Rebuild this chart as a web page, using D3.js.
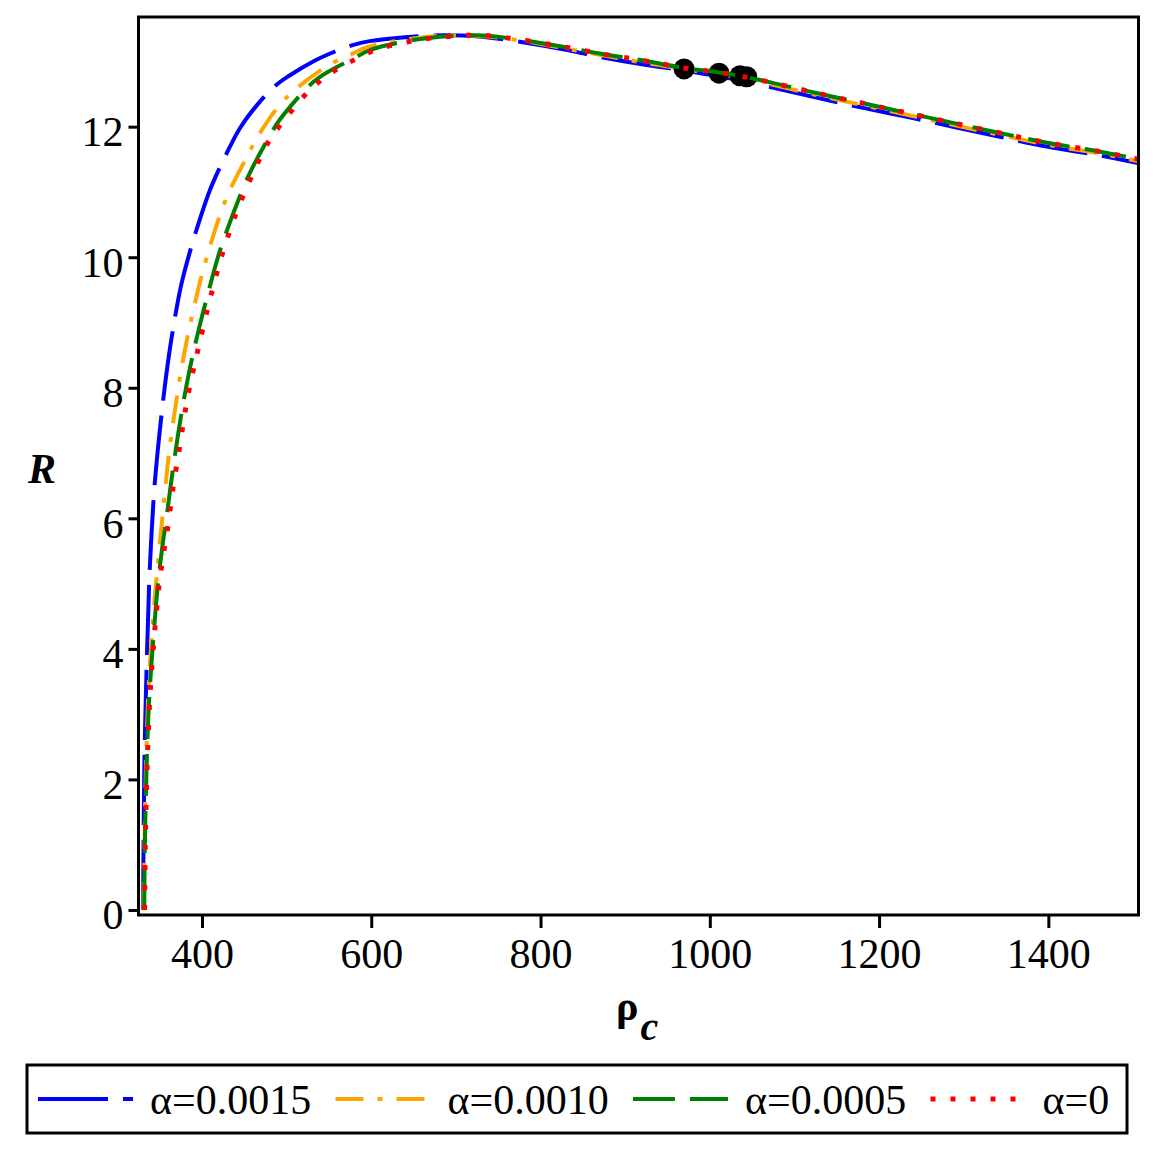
<!DOCTYPE html>
<html>
<head>
<meta charset="utf-8">
<script src="https://cdn.jsdelivr.net/npm/d3@7"></script>
<style>
  body { margin: 0; background: #fff; }
  svg text { font-family: "Liberation Serif", "DejaVu Serif", serif; fill: #000; }
</style>
</head>
<body>
<div id="chart"></div>
<script>
// R versus rho_c for four values of alpha
const labels = ["α=0.0015", "α=0.0010", "α=0.0005", "α=0"];
const colors = ["#0000ff", "#ffa500", "#008000", "#ff0000"];
const dashes = ["70,15", "28,14,5,14", "42,15", "5,15"];

const alpha0015 = [[330.5,0],[331,1.1],[332.3,2.5],[335,3.9],[337.8,5.07],[340.6,5.81],[344,6.5],[349,7.2],[354.5,7.85],[361,8.5],[367.5,9.03],[375,9.55],[385,10.05],[397,10.56],[410,11.05],[428,11.56],[445,11.98],[465,12.33],[487,12.63],[503,12.78],[533,13.01],[555,13.14],[578,13.25],[598,13.31],[640,13.37],[685,13.4],[720,13.39],[760,13.33],[820,13.2],[870,13.07],[918,12.96],[970,12.86],[1011,12.77],[1050,12.67],[1131,12.43],[1184,12.28],[1237,12.14],[1290,11.99],[1344,11.84],[1400,11.69],[1460,11.56],[1507,11.44]];
const alpha0010 = [[331,0],[332,0.8],[333,1.7],[334.5,2.5],[336.5,3.3],[339.5,3.95],[343,4.6],[347.5,5.25],[352,5.85],[356.5,6.45],[362,7.1],[368,7.65],[374.5,8.2],[382,8.72],[390,9.2],[399,9.69],[408,10.1],[420,10.6],[432,11.0],[452,11.51],[466,11.85],[491,12.32],[513,12.6],[552,12.96],[578,13.12],[596,13.22],[650,13.35],[700,13.4],[760,13.35],[820,13.22],[870,13.1],[918,12.99],[970,12.88],[1011,12.8],[1050,12.71],[1131,12.47],[1184,12.32],[1237,12.17],[1290,12.02],[1344,11.87],[1400,11.72],[1460,11.59],[1507,11.47]];
const alpha0005 = [[331.8,0],[332.5,1.0],[333.8,1.8],[335.3,2.5],[337.5,3.2],[340.5,3.8],[344,4.4],[348,5.0],[353,5.55],[358,6.0],[363,6.5],[369,7.05],[377,7.7],[385,8.25],[395,8.83],[407,9.44],[420,10.05],[432,10.5],[450,11.1],[458,11.33],[481.5,11.89],[491,12.09],[523,12.58],[539,12.76],[578,13.04],[600,13.18],[651,13.33],[694,13.39],[725,13.4],[760,13.36],[820,13.24],[870,13.12],[918,13.02],[970,12.9],[1011,12.83],[1050,12.74],[1131,12.5],[1184,12.35],[1237,12.2],[1290,12.05],[1344,11.9],[1400,11.75],[1460,11.62],[1507,11.5]];
const alpha0 = [[332.2,0],[333,1.0],[334.3,1.8],[336,2.5],[338.2,3.2],[341.2,3.8],[345,4.4],[349.5,5.0],[355,5.5],[360.5,5.95],[365.5,6.44],[373,7.05],[379,7.55],[386,8.05],[395,8.57],[408,9.28],[424,10.05],[440,10.66],[458,11.22],[479.5,11.79],[493.5,12.04],[525,12.53],[542.5,12.73],[562,12.9],[584,13.05],[603.5,13.17],[651,13.32],[700,13.39],[730,13.4],[760,13.36],[820,13.24],[870,13.12],[918,13.02],[970,12.9],[1011,12.83],[1050,12.74],[1131,12.5],[1184,12.35],[1237,12.2],[1290,12.05],[1344,11.9],[1400,11.75],[1460,11.62],[1507,11.5]];
const series = [alpha0015, alpha0010, alpha0005, alpha0];

// black markers on the curves
const markRho = [969.6, 1010.9, 1035.7, 1043.6];
const markR = [12.885, 12.82, 12.78, 12.765];

const xTicks = [400, 600, 800, 1000, 1200, 1400];
const yTicks = [0, 2, 4, 6, 8, 10, 12];

const W = 1157, H = 1157;
const plotL = 138.5, plotR = 1138.5, plotT = 17, plotB = 915;
const serif = '"Liberation Serif", "DejaVu Serif", serif';

const svg = d3.select("#chart").append("svg").attr("width", W).attr("height", H);

const x = d3.scaleLinear().domain([325, 1506.5]).range([plotL, plotR]);
const y = d3.scaleLinear().domain([-0.077, 13.68]).range([plotB, plotT]);

svg.append("defs").append("clipPath").attr("id", "clip")
    .append("rect").attr("x", plotL).attr("y", plotT).attr("width", plotR - plotL).attr("height", plotB - plotT);

const line = d3.line().x(d => x(d[0])).y(d => y(d[1])).curve(d3.curveCatmullRom.alpha(0.5));

const plot = svg.append("g").attr("clip-path", "url(#clip)");

function drawCurve(i) {
  plot.append("path").datum(series[i])
      .attr("d", line)
      .attr("fill", "none")
      .attr("stroke", colors[i])
      .attr("stroke-width", i == 3 ? 5 : 4)
      .attr("stroke-dasharray", dashes[i]);
}

drawCurve(0);
drawCurve(1);
plot.selectAll(".mark").data(markRho).enter().append("circle")
    .attr("class", "mark")
    .attr("cx", d => x(d))
    .attr("cy", (d, i) => y(markR[i]))
    .attr("r", 10.5)
    .attr("fill", "#000");
drawCurve(2);
drawCurve(3);

// axes
const xAxis = svg.append("g").attr("transform", `translate(0,${plotB})`)
    .call(d3.axisBottom(x).tickValues(xTicks).tickSize(13).tickPadding(10).tickFormat(d3.format("d")));
const yAxis = svg.append("g").attr("transform", `translate(${plotL},0)`)
    .call(d3.axisLeft(y).tickValues(yTicks).tickSize(10).tickPadding(5).tickFormat(d3.format("d")));
[xAxis, yAxis].forEach(a => {
  a.attr("font-family", serif);
  a.select(".domain").remove();
  a.selectAll(".tick line").attr("stroke", "#000").attr("stroke-width", 3);
  a.selectAll(".tick text").attr("font-size", 42).style("font-family", serif);
});
yAxis.selectAll(".tick text").attr("dy", "0.45em");

svg.append("rect").attr("x", plotL).attr("y", plotT)
    .attr("width", plotR - plotL).attr("height", plotB - plotT)
    .attr("fill", "none").attr("stroke", "#000").attr("stroke-width", 3);

// axis titles
svg.append("text").attr("x", 42).attr("y", 483).attr("text-anchor", "middle")
    .attr("font-size", 42).attr("font-weight", "bold").attr("font-style", "italic").text("R");

const xt = svg.append("text").attr("x", 616).attr("y", 1020)
    .attr("font-size", 42).attr("font-weight", "bold");
xt.append("tspan").text("ρ");
xt.append("tspan").attr("dy", 20).attr("dx", 2).attr("font-style", "italic").attr("font-size", 40).text("c");

// legend
svg.append("rect").attr("x", 27).attr("y", 1065).attr("width", 1100).attr("height", 68)
    .attr("fill", "none").attr("stroke", "#000").attr("stroke-width", 3);

const leg = svg.selectAll(".leg").data(labels).enter().append("g")
    .attr("class", "leg")
    .attr("transform", (d, i) => `translate(${38 + i * 297.5},0)`);
leg.append("line")
    .attr("x1", 0).attr("x2", 95).attr("y1", 1099).attr("y2", 1099)
    .attr("stroke", (d, i) => colors[i])
    .attr("stroke-width", (d, i) => i == 3 ? 5 : 4)
    .attr("stroke-dasharray", (d, i) => dashes[i]);
leg.append("text").attr("x", 112).attr("y", 1114).attr("font-size", 42).text(d => d);
</script>
</body>
</html>
